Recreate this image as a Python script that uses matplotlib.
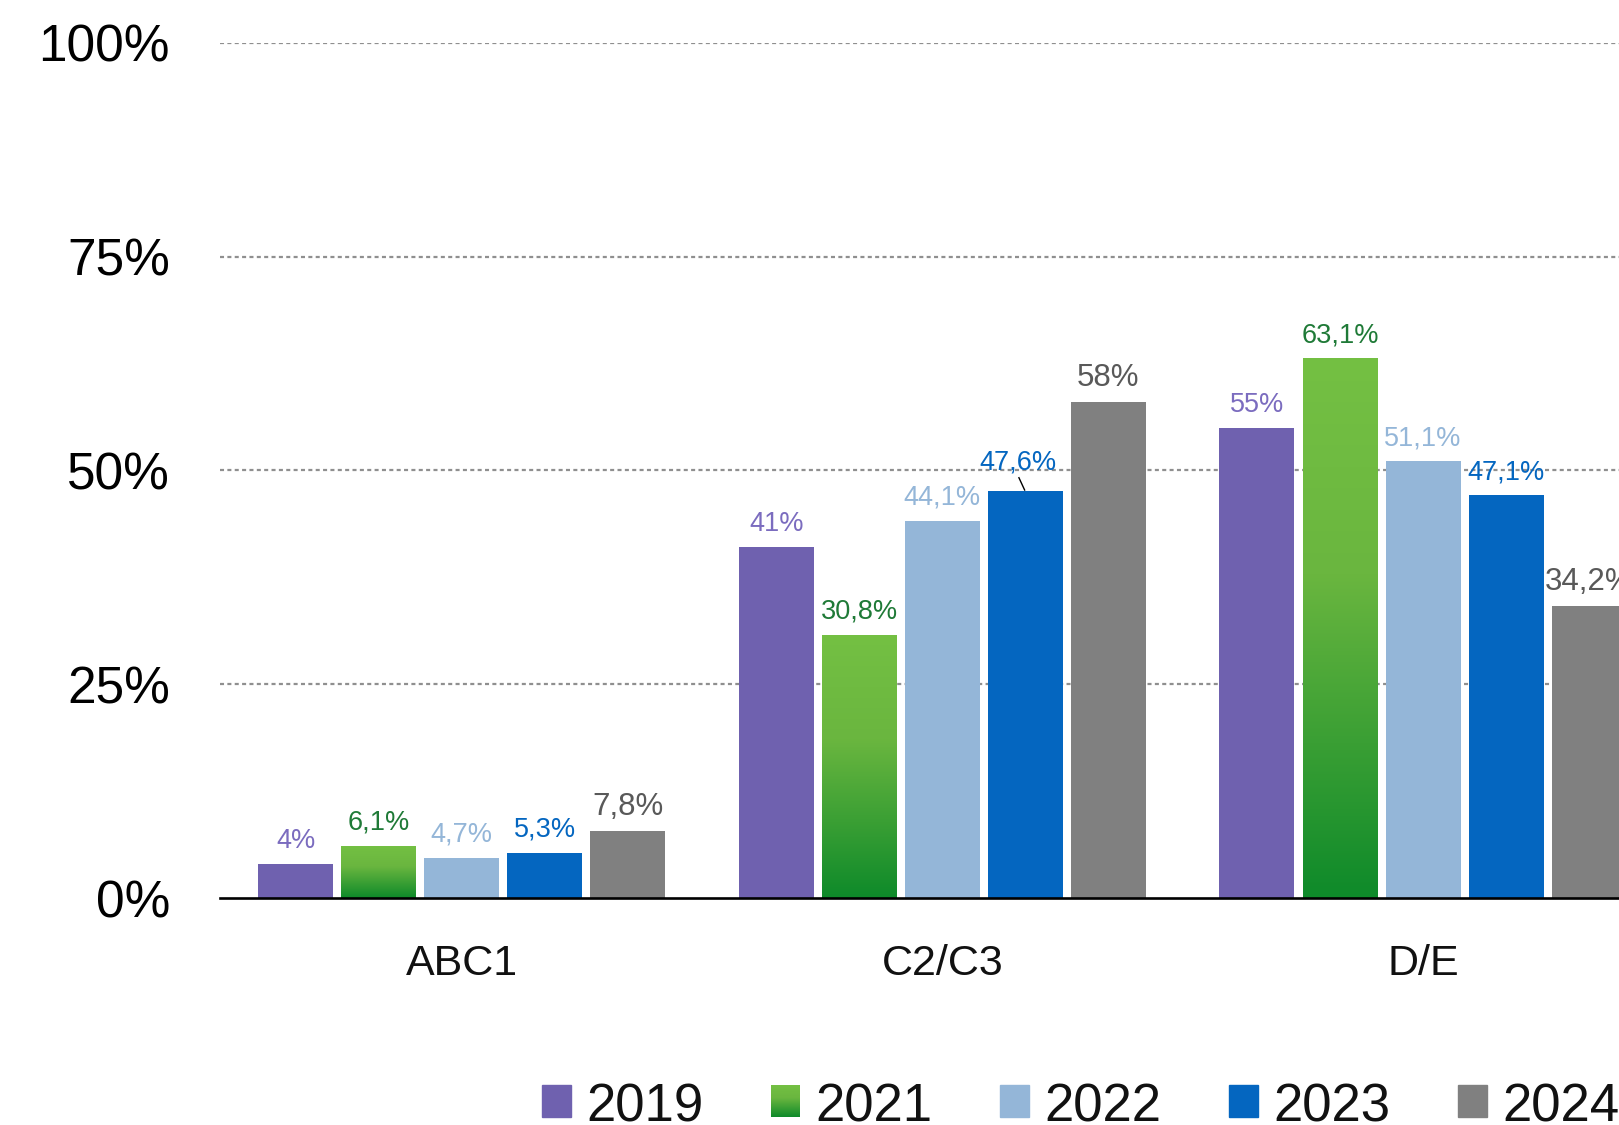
import numpy as np
import matplotlib
matplotlib.use('Agg')
import matplotlib.pyplot as plt
from matplotlib.colors import LinearSegmentedColormap
from matplotlib.patches import Rectangle

# ---------------- data ----------------
categories = ['ABC1', 'C2/C3', 'D/E']
years = ['2019', '2021', '2022', '2023', '2024']
v2019 = [4.0, 41.0, 55.0]
v2021 = [6.1, 30.8, 63.1]
v2022 = [4.7, 44.1, 51.1]
v2023 = [5.3, 47.6, 47.1]
v2024 = [7.8, 58.0, 34.2]
yticks = [0, 25, 50, 75, 100]
ytick_labels = ['0%', '25%', '50%', '75%', '100%']

series = [v2019, v2021, v2022, v2023, v2024]
bar_colors = ['#6f61af', 'gradient', '#94b6d8', '#0466c0', '#808080']
label_colors = ['#7b6cbf', '#1f7a37', '#94b6d8', '#0466c0', '#595959']
label_sizes = [19.5, 19.5, 19.5, 19.5, 22.5]

green_cmap = LinearSegmentedColormap.from_list(
    'g', [(0.0, '#0e8a2a'), (0.6, '#6ab63f'), (1.0, '#74c043')])

plt.rcParams['font.family'] = ['Liberation Sans', 'DejaVu Sans']
plt.rcParams['lines.scale_dashes'] = False

W, H = 1619, 1125
fig = plt.figure(figsize=(W / 100, H / 100), dpi=100)
ax = fig.add_axes([220 / W, 1 - 898 / H, 1 - 220 / W, (898 - 43) / H])

step = 0.1727
width = 0.156
x = np.arange(len(categories))


def fmt(v):
    s = f'{v:.1f}'.rstrip('0').rstrip('.')
    return s.replace('.', ',') + '%'


grad = np.linspace(1, 0, 256).reshape(-1, 1)

for j, vals in enumerate(series):
    xs = x + (j - 2) * step
    if bar_colors[j] == 'gradient':
        bars = ax.bar(xs, vals, width=width, color='none', zorder=2)
        for b in bars:
            x0 = b.get_x()
            im = ax.imshow(grad, extent=[x0, x0 + b.get_width(), 0, b.get_height()],
                           aspect='auto', cmap=green_cmap, vmin=0, vmax=1,
                           zorder=2, interpolation='bicubic')
            im.set_clip_path(b)
    else:
        ax.bar(xs, vals, width=width, color=bar_colors[j], zorder=2)
    for xi, v, cat in zip(xs, vals, categories):
        dx, dy = 0, 11.5
        if years[j] == '2023' and cat == 'C2/C3':
            dx, dy = -5, 15.6
            ax.plot([xi - 0.7 / 480.7, xi - 6.4 / 480.7],
                    [v + 1 / 8.55, v + 13.3 / 8.55], color='black', lw=1, zorder=3)
        ax.annotate(fmt(v), xy=(xi, v), xytext=(dx, dy), textcoords='offset points',
                    ha='center', va='baseline', color=label_colors[j],
                    fontsize=label_sizes[j], zorder=4)

ax.set_xlim(-0.5026, 2.4077)
ax.set_ylim(0, 100)

for s in ax.spines.values():
    s.set_visible(False)
for yt in yticks[1:]:
    ax.axhline(yt, color='#8f8f8f', lw=1.6, linestyle=(0, (2.9, 2.4)), zorder=0.5)
ax.axhline(0, color='black', lw=1.9, zorder=3, clip_on=False)
ax.set_yticks(yticks, ytick_labels, fontsize=37)
ax.tick_params(axis='y', length=0, pad=36)
ax.set_xticks(x, categories, fontsize=31, color='#111111')
ax.tick_params(axis='x', length=0, pad=33)

# ---------------- legend (manual) ----------------
for i, yr in enumerate(years):
    x0 = 542 + i * 229
    if bar_colors[i] == 'gradient':
        lax = fig.add_axes([x0 / W, 8 / H, 29 / W, 32 / H])
        lax.imshow(grad, aspect='auto', cmap=green_cmap, vmin=0, vmax=1,
                   extent=[0, 1, 0, 1], interpolation='bicubic')
        lax.set_axis_off()
    else:
        fig.add_artist(Rectangle((x0 / W, 8 / H), 29 / W, 32 / H,
                                 transform=fig.transFigure, color=bar_colors[i]))
    fig.text((x0 + 44) / W, 4 / H, yr, fontsize=38, va='baseline', ha='left',
             color='#111111')

fig.savefig('out.png', dpi=100)
